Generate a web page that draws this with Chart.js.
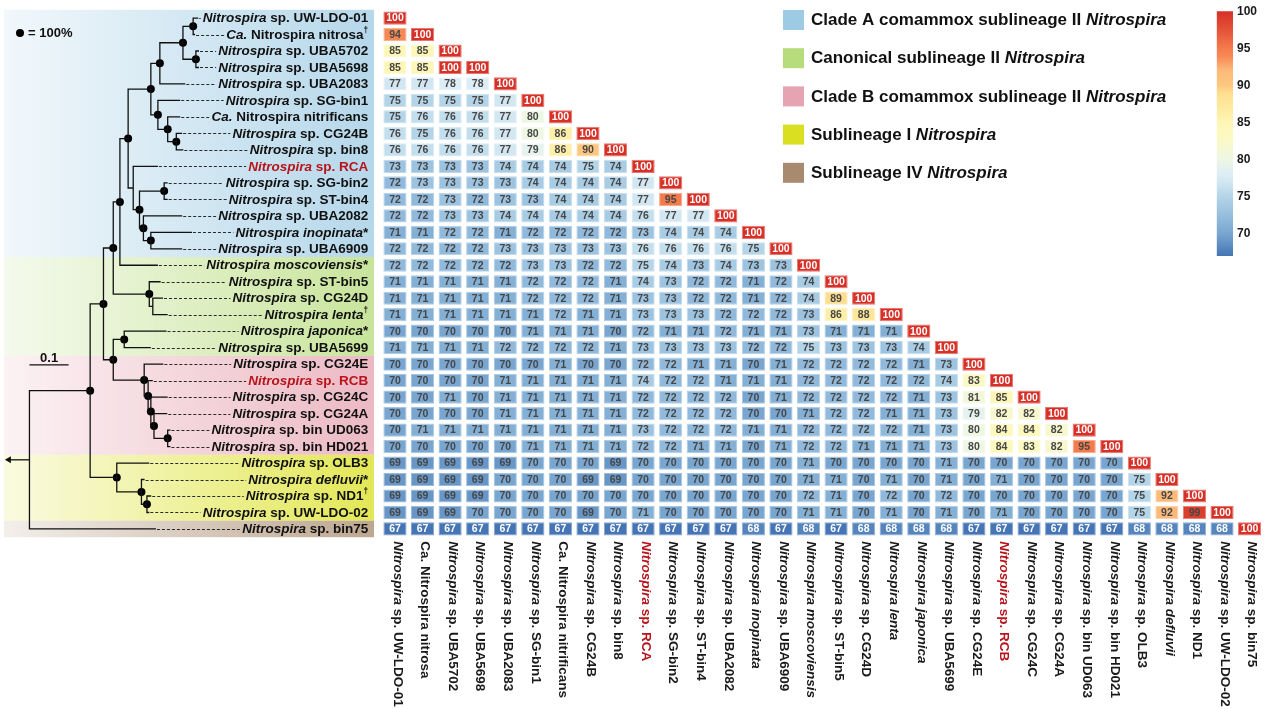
<!DOCTYPE html>
<html>
<head>
<meta charset="utf-8">
<title>Nitrospira ANI heatmap</title>
<script src="https://cdn.jsdelivr.net/npm/chart.js@4.4.1/dist/chart.umd.min.js"></script>
<style>
  html, body { margin: 0; padding: 0; background: #fff; }
  #wrap { position: relative; width: 1271px; height: 709px; overflow: hidden; }
  #wrap canvas { position: absolute; top: 0; }
  #heat { left: 0; }
  #tree { left: 0; }
  #cbar { left: 1210px; }
</style>
</head>
<body>
<div id="wrap">
  <canvas id="heat" width="1271" height="709"></canvas>
  <canvas id="tree" width="381" height="709"></canvas>
  <canvas id="cbar" width="61" height="270"></canvas>
</div>
<script>
/* ═══════════════════════════════════════════════
   DATA
═══════════════════════════════════════════════ */
const taxa = ['UWLDO01', 'nitrosa', 'UBA5702', 'UBA5698', 'UBA2083', 'SGbin1', 'nitrificans', 'CG24B',
  'bin8', 'RCA', 'SGbin2', 'STbin4', 'UBA2082', 'inopinata', 'UBA6909', 'moscoviensis', 'STbin5', 'CG24D',
  'lenta', 'japonica', 'UBA5699', 'CG24E', 'RCB', 'CG24C', 'CG24A', 'UD063', 'HD021', 'OLB3', 'defluvii',
  'ND1', 'UWLDO02', 'bin75'];

// _x_ = italic, ^x = superscript
const treeLabels = ['_Nitrospira_ sp. UW-LDO-01', '_Ca._ Nitrospira nitrosa^†', '_Nitrospira_ sp. UBA5702',
  '_Nitrospira_ sp. UBA5698', '_Nitrospira_ sp. UBA2083', '_Nitrospira_ sp. SG-bin1', '_Ca._ Nitrospira nitrificans',
  '_Nitrospira_ sp. CG24B', '_Nitrospira_ sp. bin8', '_Nitrospira_ sp. RCA', '_Nitrospira_ sp. SG-bin2',
  '_Nitrospira_ sp. ST-bin4', '_Nitrospira_ sp. UBA2082', '_Nitrospira inopinata_*', '_Nitrospira_ sp. UBA6909',
  '_Nitrospira moscoviensis_*', '_Nitrospira_ sp. ST-bin5', '_Nitrospira_ sp. CG24D', '_Nitrospira lenta_^†',
  '_Nitrospira japonica_*', '_Nitrospira_ sp. UBA5699', '_Nitrospira_ sp. CG24E', '_Nitrospira_ sp. RCB',
  '_Nitrospira_ sp. CG24C', '_Nitrospira_ sp. CG24A', '_Nitrospira_ sp. bin UD063', '_Nitrospira_ sp. bin HD021',
  '_Nitrospira_ sp. OLB3', '_Nitrospira defluvii_*', '_Nitrospira_ sp. ND1^†', '_Nitrospira_ sp. UW-LDO-02',
  '_Nitrospira_ sp. bin75'];

const colLabels = ['_Nitrospira_ sp. UW-LDO-01', 'Ca. Nitrospira nitrosa', '_Nitrospira_ sp. UBA5702',
  '_Nitrospira_ sp. UBA5698', '_Nitrospira_ sp. UBA2083', '_Nitrospira_ sp. SG-bin1', 'Ca. Nitrospira nitrificans',
  '_Nitrospira_ sp. CG24B', '_Nitrospira_ sp. bin8', '_Nitrospira_ sp. RCA', '_Nitrospira_ sp. SG-bin2',
  '_Nitrospira_ sp. ST-bin4', '_Nitrospira_ sp. UBA2082', '_Nitrospira inopinata_', '_Nitrospira_ sp. UBA6909',
  '_Nitrospira moscoviensis_', '_Nitrospira_ sp. ST-bin5', '_Nitrospira_ sp. CG24D', '_Nitrospira lenta_',
  '_Nitrospira japonica_', '_Nitrospira_ sp. UBA5699', '_Nitrospira_ sp. CG24E', '_Nitrospira_ sp. RCB',
  '_Nitrospira_ sp. CG24C', '_Nitrospira_ sp. CG24A', '_Nitrospira_ sp. bin UD063', '_Nitrospira_ sp. bin HD021',
  '_Nitrospira_ sp. OLB3', '_Nitrospira defluvii_', '_Nitrospira_ sp. ND1', '_Nitrospira_ sp. UW-LDO-02',
  '_Nitrospira_ sp. bin75'];

const redTaxa = ['RCA', 'RCB'];

// ANI (%) lower triangle, rows/cols in taxa order
const aniRows = [
  [100],
  [94,100],
  [85,85,100],
  [85,85,100,100],
  [77,77,78,78,100],
  [75,75,75,75,77,100],
  [75,76,76,76,77,80,100],
  [76,75,76,76,77,80,86,100],
  [76,76,76,76,77,79,86,90,100],
  [73,73,73,73,74,74,74,75,74,100],
  [72,73,73,73,73,74,74,74,74,77,100],
  [72,72,73,72,73,73,74,74,74,77,95,100],
  [72,72,73,73,74,74,74,74,74,76,77,77,100],
  [71,71,72,72,71,72,72,72,72,73,74,74,74,100],
  [72,72,72,72,73,73,73,73,73,76,76,76,76,75,100],
  [72,72,72,72,72,73,73,72,72,75,74,73,74,73,73,100],
  [71,71,71,71,71,72,72,72,71,74,73,72,72,71,72,74,100],
  [71,71,71,71,71,72,72,72,71,73,73,72,72,71,72,74,89,100],
  [71,71,71,71,71,71,72,71,71,73,73,73,72,72,72,73,86,88,100],
  [70,70,70,70,70,71,71,71,70,72,71,71,72,71,71,73,71,71,71,100],
  [71,71,71,71,72,72,72,72,71,73,73,73,73,72,72,75,73,73,73,74,100],
  [70,70,70,70,70,70,71,70,70,72,72,71,71,70,71,72,72,72,72,71,73,100],
  [70,70,70,70,71,71,71,71,71,74,72,72,71,71,71,72,72,72,72,72,74,83,100],
  [70,70,71,70,71,71,71,71,71,72,72,72,72,70,71,72,72,72,72,71,73,81,85,100],
  [70,70,70,70,71,71,71,71,71,72,72,72,72,70,70,71,72,72,71,71,73,79,82,82,100],
  [70,71,71,71,71,71,71,71,71,73,72,72,72,71,71,72,72,72,72,71,73,80,84,84,82,100],
  [70,70,70,70,70,71,71,71,71,72,72,71,71,70,71,72,72,71,71,71,73,80,84,83,82,95,100],
  [69,69,69,69,69,70,70,70,69,70,70,70,70,70,70,71,70,70,70,70,71,70,70,70,70,70,70,100],
  [69,69,69,69,70,70,70,69,69,70,70,70,70,70,70,71,71,70,71,70,71,70,71,70,70,70,70,75,100],
  [69,69,69,69,70,70,70,70,70,70,70,70,70,70,70,72,71,70,72,70,72,70,70,70,70,70,70,75,92,100],
  [69,69,69,70,70,70,70,69,70,71,70,70,70,70,70,71,71,70,71,70,71,70,71,70,70,70,70,75,92,99,100],
  [67,67,67,67,67,67,67,67,67,67,67,67,67,68,67,68,67,68,68,68,68,67,67,67,67,67,67,68,68,68,68,100]
];

// tree, branch lengths; internal labels = bootstrap support
const treeNewick = '((((((((((UWLDO01:0.013,nitrosa:0.005)100:0.026,(UBA5702:0.008,UBA5698:0.008)100:0.033)100:0.059,' +
  'UBA2083:0.065)100:0.023,(SGbin1:0.057,(nitrificans:0.032,(CG24B:0.015,bin8:0.018)100:0.022)100:0.025)100:0.018)100:0.058,' +
  '(RCA:0.063,((SGbin2:0.009,STbin4:0.009)100:0.063,(UBA2082:0.099,(inopinata:0.105,UBA6909:0.080)100:0.019)100:0.010)100:0.016):0.013)100:0.021,' +
  'moscoviensis:0.097)100:0.017,(STbin5:0.029,(CG24D:0.026,lenta:0.038):0.009)100:0.092)100:0.025,' +
  '((japonica:0.108,UBA5699:0.068)100:0.028,(CG24E:0.049,(RCB:0.012,(CG24C:0.043,(CG24A:0.034,(UD063:0.007,HD021:0.007)100:0.035)100:0.008)100:0.007)100:0.010)100:0.079)100:0.025)100:0.034,' +
  '(OLB3:0.083,(defluvii:0.008,(ND1:0.011,UWLDO02:0.006)100:0.014)100:0.063)100:0.068)100:0.155,bin75:0.323);';

const cladeNames = ['Clade A comammox sublineage II _Nitrospira_', 'Canonical sublineage II _Nitrospira_',
  'Clade B comammox sublineage II _Nitrospira_', 'Sublineage I _Nitrospira_', 'Sublineage IV _Nitrospira_'];
const cladeFirstRow = [0, 15, 21, 27, 31];
const cladeLastRow = [14, 20, 26, 30, 31];

const colorTicks = [70, 75, 80, 85, 90, 95, 100];
const colorMin = 67, colorMax = 100;
const scaleBarLength = 0.1;

/* ═══════════════════════════════════════════════
   STYLE
═══════════════════════════════════════════════ */
const FONT = '"Liberation Sans", Arial, Helvetica, sans-serif';
const RED = '#b8141c';
const cladeColors = ['#9ecbe4', '#b7dc7c', '#e6a3b1', '#dae021', '#a88b6e'];
const aniStopVals = [67, 70, 73, 75, 77, 78, 80, 83, 85, 86, 88, 89, 90, 92, 94, 95, 97, 100];
const aniStopCols = ['#4575b4', '#78a6d0', '#9cc3e0', '#b4d4e8', '#d2e7f1', '#dcedf5', '#eef6e4', '#fbf9c2',
  '#fef6b6', '#feefa8', '#fee597', '#fedd8e', '#fdc780', '#fcb97a', '#f68854', '#f47b4c', '#e55a3c', '#d73027'];

const ROWS = taxa.length;
const TOP = 9.8, AXIS_H = 171.8, HEAT_LEFT = 381.2, HEAT_RIGHT_PAD = 7.6;
const TREE_PX = 400;             // px per substitution unit
const treeMin = -26 / TREE_PX;
const treeMax = treeMin + 381 / TREE_PX;
const labelAnchor = (372 - 26) / TREE_PX;
const rootStub = 21 / TREE_PX;
const scaleBarRow = 21.05;

Chart.defaults.font.family = FONT;

function hexRgb(h) { const n = parseInt(h.slice(1), 16); return [n >> 16, (n >> 8) & 255, n & 255]; }
function aniRgb(v) {
  const s = aniStopVals;
  if (v <= s[0]) return hexRgb(aniStopCols[0]);
  for (let k = 1; k < s.length; k++) {
    if (v <= s[k]) {
      const t = (v - s[k - 1]) / (s[k] - s[k - 1]);
      const a = hexRgb(aniStopCols[k - 1]), b = hexRgb(aniStopCols[k]);
      return a.map((x, j) => Math.round(x + (b[j] - x) * t));
    }
  }
  return hexRgb(aniStopCols[s.length - 1]);
}
const rgbStr = c => 'rgb(' + c.join(',') + ')';
const tint = (c, f) => rgbStr(c.map(x => Math.round(x + (255 - x) * f)));
function rgba(hex, a) { const c = hexRgb(hex); return `rgba(${c[0]},${c[1]},${c[2]},${a})`; }

/* rich text: _italic_, ^superscript */
function richSegments(markup) {
  const segs = [];
  let italic = false, sup = false, cur = '';
  const flush = () => { if (cur) segs.push({ t: cur, italic, sup }); cur = ''; };
  for (const ch of markup) {
    if (ch === '_') { flush(); italic = !italic; }
    else if (ch === '^') { flush(); sup = true; }
    else { cur += ch; if (sup) { flush(); sup = false; } }
  }
  flush();
  return segs;
}
const segFont = (s, size) => `${s.italic ? 'italic ' : ''}bold ${s.sup ? size * 0.62 : size}px ${FONT}`;
function measureRich(ctx, segs, size) {
  let w = 0;
  segs.forEach(s => { ctx.font = segFont(s, size); w += ctx.measureText(s.t).width; });
  return w;
}
function drawRich(ctx, x, y, segs, size, color) {
  ctx.save();
  ctx.fillStyle = color;
  ctx.textAlign = 'left';
  ctx.textBaseline = 'middle';
  segs.forEach(s => {
    ctx.font = segFont(s, size);
    ctx.fillText(s.t, x, s.sup ? y - size * 0.32 : y);
    x += ctx.measureText(s.t).width;
  });
  ctx.restore();
}

/* ═══════════════════════════════════════════════
   TREE
═══════════════════════════════════════════════ */
function parseNewick(s) {
  let i = 0;
  function node() {
    const n = { children: [], name: '', len: 0, support: null };
    if (s[i] === '(') {
      i++;
      n.children.push(node());
      while (s[i] === ',') { i++; n.children.push(node()); }
      i++;
    }
    let tok = '';
    while (i < s.length && !':,);'.includes(s[i])) tok += s[i++];
    if (n.children.length) n.support = tok ? +tok : null; else n.name = tok;
    if (s[i] === ':') {
      i++;
      let num = '';
      while (i < s.length && !',);'.includes(s[i])) num += s[i++];
      n.len = +num;
    }
    return n;
  }
  return node();
}

function layoutTree(n, parentDepth) {
  n.depth = parentDepth + n.len;
  if (!n.children.length) { n.y = taxa.indexOf(n.name); return; }
  n.children.forEach(c => layoutTree(c, n.depth));
  n.y = (n.children[0].y + n.children[n.children.length - 1].y) / 2;
}

const root = parseNewick(treeNewick);
root.len = 0;
layoutTree(root, 0);

const branchPts = [], dotPts = [], leaves = [];
(function walk(n) {
  if (!n.children.length) { leaves.push(n); return; }
  if (n.support >= 100) dotPts.push({ x: n.depth, y: n.y });
  n.children.forEach(c => {
    branchPts.push({ x: n.depth, y: n.y }, { x: n.depth, y: c.y }, { x: c.depth, y: c.y }, { x: null, y: null });
    walk(c);
  });
})(root);

const bandPlugin = {
  id: 'bands',
  beforeDatasetsDraw(chart) {
    const { ctx, chartArea } = chart;
    const ys = chart.scales.y;
    const right = chartArea.right - 3;
    ctx.save();
    cladeColors.forEach((col, k) => {
      const top = ys.getPixelForValue(cladeFirstRow[k] - 0.5);
      const bot = ys.getPixelForValue(cladeLastRow[k] + 0.5);
      const g = ctx.createLinearGradient(chartArea.left, 0, right, 0);
      g.addColorStop(0, rgba(col, 0.14));
      g.addColorStop(1, rgba(col, 0.76));
      ctx.fillStyle = g;
      ctx.fillRect(chartArea.left, top, right - chartArea.left, bot - top);
    });
    ctx.restore();
  }
};

const leafLabelPlugin = {
  id: 'leafLabels',
  afterDatasetsDraw(chart) {
    const { ctx } = chart;
    const xs = chart.scales.x, ys = chart.scales.y;
    const right = xs.getPixelForValue(labelAnchor);
    leaves.forEach(leaf => {
      const i = leaf.y;
      const segs = richSegments(treeLabels[i]);
      const w = measureRich(ctx, segs, 13.5);
      const y = ys.getPixelForValue(i);
      const x0 = xs.getPixelForValue(leaf.depth);
      ctx.save();
      ctx.strokeStyle = '#2a2a2a';
      ctx.lineWidth = 1;
      ctx.setLineDash([3, 2]);
      ctx.beginPath();
      ctx.moveTo(x0 + 1, Math.round(y) + 0.5);
      ctx.lineTo(right - w - 2, Math.round(y) + 0.5);
      ctx.stroke();
      ctx.restore();
      drawRich(ctx, right - w, y + 0.5, segs, 13.5, redTaxa.includes(taxa[i]) ? RED : '#111');
    });

    // support key
    ctx.save();
    ctx.fillStyle = '#000';
    ctx.beginPath();
    ctx.arc(20, 33, 4, 0, Math.PI * 2);
    ctx.fill();
    ctx.restore();
    drawRich(ctx, 28, 33.5, richSegments('= 100%'), 13, '#111');

    // scale bar label
    drawRich(ctx, xs.getPixelForValue(scaleBarLength / 2) - 9, ys.getPixelForValue(scaleBarRow) - 7,
      richSegments(String(scaleBarLength)), 13, '#111');
  }
};

new Chart(document.getElementById('tree'), {
  type: 'scatter',
  data: {
    datasets: [
      { data: branchPts, showLine: true, spanGaps: false, borderColor: '#111', borderWidth: 1.3, pointRadius: 0 },
      {
        data: [{ x: 0, y: root.y }, { x: -rootStub, y: root.y }], showLine: true, clip: false,
        borderColor: '#111', borderWidth: 1.3, pointRadius: [0, 4], pointStyle: 'triangle',
        pointRotation: [0, -90], pointBackgroundColor: '#111', pointBorderWidth: 0
      },
      { data: [{ x: 0, y: scaleBarRow }, { x: scaleBarLength, y: scaleBarRow }], showLine: true,
        borderColor: '#111', borderWidth: 1.3, pointRadius: 0 },
      { data: dotPts, showLine: false, pointRadius: 4, pointBackgroundColor: '#000', pointBorderWidth: 0 }
    ]
  },
  options: {
    responsive: false,
    animation: false,
    events: [],
    layout: { padding: { left: 0, right: 0, top: TOP, bottom: AXIS_H } },
    plugins: { legend: { display: false }, tooltip: { enabled: false } },
    scales: {
      x: { type: 'linear', min: treeMin, max: treeMax, display: false },
      y: { type: 'linear', min: -0.5, max: ROWS - 0.5, reverse: true, display: false }
    }
  },
  plugins: [bandPlugin, leafLabelPlugin]
});

/* ═══════════════════════════════════════════════
   HEATMAP
═══════════════════════════════════════════════ */
const cellHalf = 0.4;
const cellData = [], cellVals = [];
aniRows.forEach((row, r) => row.forEach((v, c) => {
  cellData.push({ x: taxa[c], y: [r - cellHalf, r + cellHalf] });
  cellVals.push(v);
}));

const cellTextPlugin = {
  id: 'cellText',
  afterDatasetsDraw(chart) {
    const { ctx } = chart;
    const meta = chart.getDatasetMeta(0);
    ctx.save();
    ctx.font = `bold 10.5px ${FONT}`;
    ctx.textAlign = 'center';
    ctx.textBaseline = 'middle';
    meta.data.forEach((bar, i) => {
      const v = cellVals[i];
      const { x, y, base } = bar.getProps(['x', 'y', 'base'], true);
      ctx.fillStyle = (v >= 100 || v <= 68) ? '#fff' : '#474747';
      ctx.fillText(v, x, (y + base) / 2 + 0.5);
    });
    ctx.restore();
  }
};

const colLabelPlugin = {
  id: 'colLabels',
  afterDraw(chart) {
    const { ctx, chartArea } = chart;
    const xs = chart.scales.x;
    taxa.forEach((k, i) => {
      ctx.save();
      ctx.translate(xs.getPixelForValue(i) + 2.5, chartArea.bottom + 4);
      ctx.rotate(Math.PI / 2);
      drawRich(ctx, 0, 0, richSegments(colLabels[i]), 13.5, redTaxa.includes(k) ? RED : '#1a1a1a');
      ctx.restore();
    });
  }
};

const cladeLegendPlugin = {
  id: 'cladeLegend',
  afterDraw(chart) {
    const { ctx } = chart;
    cladeNames.forEach((name, k) => {
      const cy = 20 + k * 38.2;
      ctx.save();
      ctx.fillStyle = cladeColors[k];
      ctx.fillRect(783, cy - 10, 21, 20);
      ctx.restore();
      drawRich(ctx, 811, cy + 0.5, richSegments(name), 17, '#111');
    });
  }
};

new Chart(document.getElementById('heat'), {
  type: 'bar',
  data: {
    labels: taxa,
    datasets: [{
      data: cellData,
      backgroundColor: cellVals.map(v => rgbStr(aniRgb(v))),
      borderColor: cellVals.map(v => tint(aniRgb(v), 0.35)),
      borderWidth: 1,
      borderSkipped: false,
      categoryPercentage: 1,
      barPercentage: 0.84
    }]
  },
  options: {
    responsive: false,
    animation: false,
    events: [],
    layout: { padding: { left: HEAT_LEFT, right: HEAT_RIGHT_PAD, top: TOP, bottom: 0 } },
    plugins: { legend: { display: false }, tooltip: { enabled: false } },
    scales: {
      x: {
        type: 'category',
        grid: { display: false },
        border: { display: false },
        ticks: { display: false },
        afterFit: s => { s.height = AXIS_H; }
      },
      y: { type: 'linear', min: -0.5, max: ROWS - 0.5, reverse: true, display: false }
    }
  },
  plugins: [cellTextPlugin, colLabelPlugin, cladeLegendPlugin]
});

/* ═══════════════════════════════════════════════
   COLOUR BAR
═══════════════════════════════════════════════ */
new Chart(document.getElementById('cbar'), {
  type: 'bar',
  data: {
    labels: ['ANI'],
    datasets: [{
      data: [[colorMin, colorMax]],
      categoryPercentage: 1,
      barPercentage: 1,
      borderWidth: 0,
      backgroundColor: context => {
        const { chart } = context;
        if (!chart.chartArea) return null;
        const ys = chart.scales.y;
        const y0 = ys.getPixelForValue(colorMin), y1 = ys.getPixelForValue(colorMax);
        const g = chart.ctx.createLinearGradient(0, y0, 0, y1);
        aniStopVals.forEach((v, k) => g.addColorStop((v - colorMin) / (colorMax - colorMin), aniStopCols[k]));
        return g;
      }
    }]
  },
  options: {
    responsive: false,
    animation: false,
    events: [],
    layout: { padding: { left: 6.7, right: 0, top: 10, bottom: 14 } },
    plugins: { legend: { display: false }, tooltip: { enabled: false } },
    scales: {
      x: { display: false },
      y: {
        position: 'right',
        min: colorMin,
        max: colorMax,
        grid: { display: false, drawTicks: false },
        border: { display: false },
        afterBuildTicks: s => { s.ticks = colorTicks.map(v => ({ value: v })); },
        afterFit: s => { s.width = 38; },
        ticks: { color: '#1a1a1a', padding: 4, font: { size: 12, weight: 'bold' } }
      }
    }
  }
});
</script>
</body>
</html>
